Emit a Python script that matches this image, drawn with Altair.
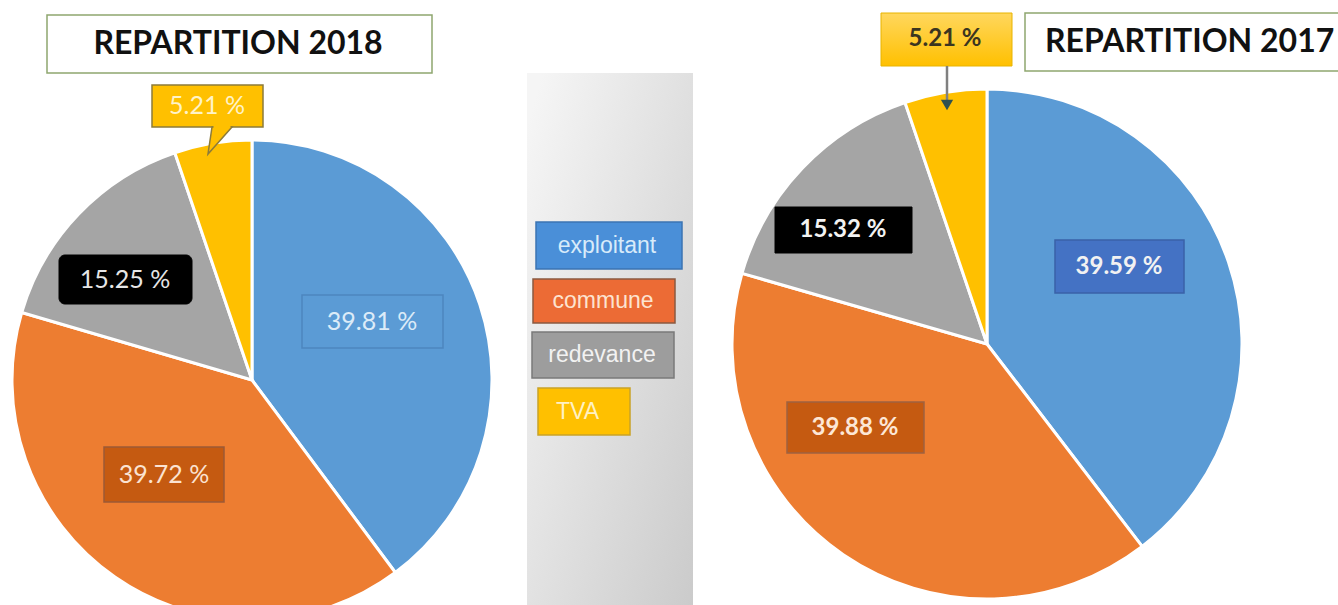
import altair as alt
import pandas as pd

# ---------------- data ----------------
categories = ["exploitant", "commune", "redevance", "TVA"]
values_2018 = [39.81, 39.72, 15.25, 5.21]
values_2017 = [39.59, 39.88, 15.32, 5.21]
labels_2018 = ["39.81 %", "39.72 %", "15.25 %", "5.21 %"]
labels_2017 = ["39.59 %", "39.88 %", "15.32 %", "5.21 %"]
titles = ["REPARTITION 2018", "REPARTITION 2017"]
slice_colors = ["#5b9bd5", "#ed7d31", "#a5a5a5", "#ffc000"]

W, H = 1338, 605

rows = []
for year, vals in ((2018, values_2018), (2017, values_2017)):
    for i, (c, v) in enumerate(zip(categories, vals)):
        rows.append({"year": year, "category": c, "value": v, "order": i})
pie_df = pd.DataFrame(rows)

color_scale = alt.Scale(domain=categories, range=slice_colors)


def pie(year, cx, cy, r):
    return (
        alt.Chart(pie_df)
        .transform_filter(alt.datum.year == year)
        .mark_arc(radius=r, stroke="white", strokeWidth=3)
        .encode(
            theta=alt.Theta("value:Q", stack=True),
            color=alt.Color("category:N", scale=color_scale, legend=None),
            order=alt.Order("order:Q", sort="ascending"),
            x=alt.value(cx),
            y=alt.value(cy),
        )
    )


def rect_layer(df, **kw):
    return alt.Chart(df).mark_rect(**kw).encode(
        x=alt.X("x:Q", scale=None, axis=None),
        x2="x2:Q",
        y=alt.Y("y:Q", scale=None, axis=None),
        y2="y2:Q",
        fill=alt.Fill("fill:N", scale=None, legend=None),
        stroke=alt.Stroke("stroke:N", scale=None, legend=None),
        strokeWidth=alt.StrokeWidth("sw:Q", scale=None, legend=None),
    )


def text_layer(df, font, weight, align="center"):
    return alt.Chart(df).mark_text(
        font=font, fontWeight=weight, baseline="middle", align=align
    ).encode(
        x=alt.X("x:Q", scale=None, axis=None),
        y=alt.Y("y:Q", scale=None, axis=None),
        text="text:N",
        fill=alt.Fill("color:N", scale=None, legend=None),
        size=alt.Size("size:Q", scale=None, legend=None),
    )


# ---------------- middle legend panel ----------------
panel = alt.Chart(pd.DataFrame({"a": [0]})).mark_rect(
    fill=alt.LinearGradient(
        gradient="linear",
        stops=[alt.GradientStop(color="#f5f5f5", offset=0),
               alt.GradientStop(color="#cbcbcb", offset=1)],
        x1=0, y1=0.1, x2=1, y2=1,
    )
).encode(x=alt.value(527), x2=alt.value(693), y=alt.value(73), y2=alt.value(H))

legend_boxes = pd.DataFrame([
    {"x": 536, "x2": 682, "y": 222, "y2": 269, "fill": "#4a8fd8", "stroke": "#3b74b3", "sw": 1.5},
    {"x": 533, "x2": 675, "y": 279, "y2": 323, "fill": "#ec6b35", "stroke": "#8a5a40", "sw": 1.5},
    {"x": 532, "x2": 674, "y": 332, "y2": 378, "fill": "#9d9d9d", "stroke": "#7a7a7a", "sw": 1.5},
    {"x": 538, "x2": 630, "y": 388, "y2": 435, "fill": "#ffc000", "stroke": "#c9a227", "sw": 1.5},
])
legend_text_c = pd.DataFrame([
    {"x": 607, "y": 246, "text": categories[0], "color": "#d8ebfa", "size": 23},
    {"x": 603, "y": 301, "text": categories[1], "color": "#fde3d0", "size": 23},
    {"x": 602, "y": 355, "text": categories[2], "color": "#f2f2f2", "size": 23},
])
legend_text_l = pd.DataFrame([
    {"x": 556, "y": 412, "text": categories[3], "color": "#fff1c4", "size": 23},
])

# ---------------- title boxes ----------------
title_boxes = pd.DataFrame([
    {"x": 47, "x2": 432, "y": 15, "y2": 73, "fill": "#ffffff", "stroke": "#8fa66f", "sw": 1.5},
    {"x": 1025, "x2": 1360, "y": 13, "y2": 71, "fill": "#ffffff", "stroke": "#8fa66f", "sw": 1.5},
])
title_text_c = pd.DataFrame([{"x": 238, "y": 44, "text": titles[0], "color": "#111111", "size": 32}])
title_text_l = pd.DataFrame([{"x": 1045, "y": 42, "text": titles[1], "color": "#111111", "size": 32}])

# ---------------- data-label boxes ----------------
label_boxes = pd.DataFrame([
    {"x": 302, "x2": 443, "y": 295, "y2": 348, "fill": "#5b9bd5", "stroke": "#4d86bf", "sw": 1.5},
    {"x": 104, "x2": 224, "y": 447, "y2": 502, "fill": "#c55a11", "stroke": "#9c5a36", "sw": 1.5},
    {"x": 152, "x2": 263, "y": 85, "y2": 127, "fill": "#ffc000", "stroke": "#8c7b3a", "sw": 1.5},
    {"x": 1055, "x2": 1184, "y": 240, "y2": 293, "fill": "#4472c4", "stroke": "#3a62a8", "sw": 1.5},
    {"x": 787, "x2": 924, "y": 402, "y2": 453, "fill": "#c55a11", "stroke": "#9e6240", "sw": 1.5},
    {"x": 775, "x2": 912, "y": 207, "y2": 253, "fill": "#000000", "stroke": "#000000", "sw": 1},
])
rounded_box = pd.DataFrame([
    {"x": 59, "x2": 192, "y": 255, "y2": 304, "fill": "#000000", "stroke": "#000000", "sw": 1},
])

callout17 = alt.Chart(pd.DataFrame({"a": [0]})).mark_rect(
    fill=alt.LinearGradient(
        gradient="linear",
        stops=[alt.GradientStop(color="#ffd75e", offset=0),
               alt.GradientStop(color="#ffc000", offset=1)],
        x1=0, y1=0, x2=0, y2=1,
    ),
    stroke="#e8b400", strokeWidth=1,
).encode(x=alt.value(881), x2=alt.value(1012), y=alt.value(13), y2=alt.value(66))

# callout tail (2018) and arrow (2017)
tail18 = alt.Chart(pd.DataFrame({"a": [0]})).mark_point(
    shape="M-0.59,-1 L0.89,-1 L-0.89,1 Z", size=729, filled=True,
    fill="#ffc000", stroke="#8c7b3a", strokeWidth=1.5, opacity=1,
).encode(x=alt.value(220), y=alt.value(140.5))
tail18_cover = alt.Chart(pd.DataFrame({"a": [0]})).mark_rule(
    color="#ffc000", strokeWidth=3
).encode(x=alt.value(213.5), x2=alt.value(230.5), y=alt.value(126.5))

arrow_line = alt.Chart(pd.DataFrame({"a": [0]})).mark_rule(
    color="#808080", strokeWidth=2.5
).encode(x=alt.value(947), y=alt.value(66), y2=alt.value(100))
arrow_head = alt.Chart(pd.DataFrame({"a": [0]})).mark_point(
    shape="triangle-down", size=150, filled=True, fill="#2f5150", opacity=1
).encode(x=alt.value(947), y=alt.value(105))

lab18 = pd.DataFrame([
    {"x": 372, "y": 322, "text": labels_2018[0], "color": "#dcebf8", "size": 25},
    {"x": 164, "y": 475, "text": labels_2018[1], "color": "#fbe3d2", "size": 25},
    {"x": 125, "y": 280, "text": labels_2018[2], "color": "#e6e6e6", "size": 25},
    {"x": 207, "y": 106, "text": labels_2018[3], "color": "#fff3c8", "size": 25},
])
lab17 = pd.DataFrame([
    {"x": 1119, "y": 267, "text": labels_2017[0], "color": "#f2f2f2", "size": 24},
    {"x": 855, "y": 428, "text": labels_2017[1], "color": "#fde7d6", "size": 24},
    {"x": 843, "y": 230, "text": labels_2017[2], "color": "#f2f2f2", "size": 24},
    {"x": 945, "y": 39, "text": labels_2017[3], "color": "#3b3520", "size": 24},
])

chart = alt.layer(
    panel,
    rect_layer(legend_boxes),
    text_layer(legend_text_c, "Liberation Sans", "normal"),
    text_layer(legend_text_l, "Liberation Sans", "normal", align="left"),
    pie(2018, 252, 380, 240),
    pie(2017, 987, 344, 255),
    rect_layer(title_boxes),
    text_layer(title_text_c, "Lato", "bold"),
    text_layer(title_text_l, "Lato", "bold", align="left"),
    rect_layer(label_boxes),
    rect_layer(rounded_box, cornerRadius=6),
    callout17,
    tail18,
    tail18_cover,
    arrow_line,
    arrow_head,
    text_layer(lab18, "Lato", "normal"),
    text_layer(lab17, "Lato", "bold"),
).resolve_scale(
    theta="independent", fill="independent", stroke="independent", color="independent"
).properties(
    width=W, height=H, padding=0, autosize="none", background="white"
).configure_view(stroke=None)

chart.save("out.html", embed_options={"renderer": "svg", "actions": False})
